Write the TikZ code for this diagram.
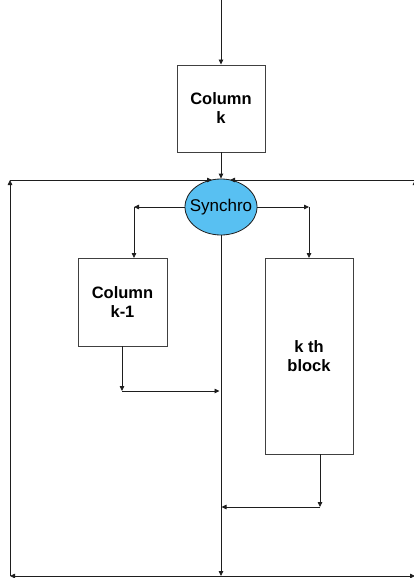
\documentclass[tikz,border=0pt]{standalone}
\usepackage{fontspec}
\setmainfont{Liberation Sans}
\usetikzlibrary{arrows.meta,shapes.geometric}
\definecolor{syncblue}{RGB}{88,192,242}
\definecolor{linec}{RGB}{30,30,30}
\begin{document}
\begin{tikzpicture}[x=1pt,y=-1pt,
  boxst/.style={draw=linec!85!white,line width=0.9pt,rectangle,inner sep=0pt,align=center,
    font=\fontsize{16.5}{19}\selectfont\bfseries},
  conn/.style={draw=linec,line width=0.8pt},
  arr/.style={conn,-{Triangle[length=5pt,width=4.5pt]}}]
\useasboundingbox (0,0) rectangle (414,578);
\fill[white] (0,0) rectangle (414,578);
% nodes
\coordinate (top) at (221,0);
\node[boxst,minimum width=88pt,minimum height=87pt] (colk) at (221,108.5) {Column\\k};
\node[draw=linec,line width=0.8pt,ellipse,fill=syncblue,minimum width=72pt,minimum height=56pt,inner sep=0pt] (sync) at (221,207) {};
\node[inner sep=0pt,font=\fontsize{17}{19}\selectfont] (synctext) at (sync.center) {Synchro};
\node[boxst,minimum width=89pt,minimum height=88pt] (colk1) at (122.5,302) {Column\\k-1};
\node[boxst,minimum width=88pt,minimum height=196pt] (kth) at (309,356) {k th\\block};
% coordinates
\coordinate (BL) at (10,576);
\coordinate (TL) at (10,180);
\coordinate (BR) at (415,576);
\coordinate (TR) at (415,180);
\coordinate (Bc) at (221,576);
\coordinate (sl) at (212,180);
\coordinate (sr) at (230,180);
\coordinate (lj) at (134,207);
\coordinate (rj) at (309,207);
\coordinate (lin) at (134,258);
\coordinate (rin) at (309,258);
\coordinate (lout) at (122,346);
\coordinate (lc) at (122,391);
\coordinate (lm) at (219.5,391);
\coordinate (rout) at (320,454);
\coordinate (rc) at (320,507);
\coordinate (rm) at (221.5,507);
% connectors
\draw[arr] (top) -- (colk.north);
\draw[arr] (colk.south) -- (sync.north);
\draw[arr] (sync.south) -- (Bc);
\draw[arr] (Bc) -- (BL);
\draw[arr] (BL) -- (TL);
\draw[arr] (TL) -- (sl);
\draw[arr] (Bc) -- (BR);
\draw[arr] (BR) -- (TR);
\draw[arr] (TR) -- (sr);
\draw[arr] (sync.west) -- (lj);
\draw[arr] (lj) -- (lin);
\draw[arr] (sync.east) -- (rj);
\draw[arr] (rj) -- (rin);
\draw[arr] (lout) -- (lc);
\draw[arr] (lc) -- (lm);
\draw[arr] (rout) -- (rc);
\draw[arr] (rc) -- (rm);
\end{tikzpicture}
\end{document}
